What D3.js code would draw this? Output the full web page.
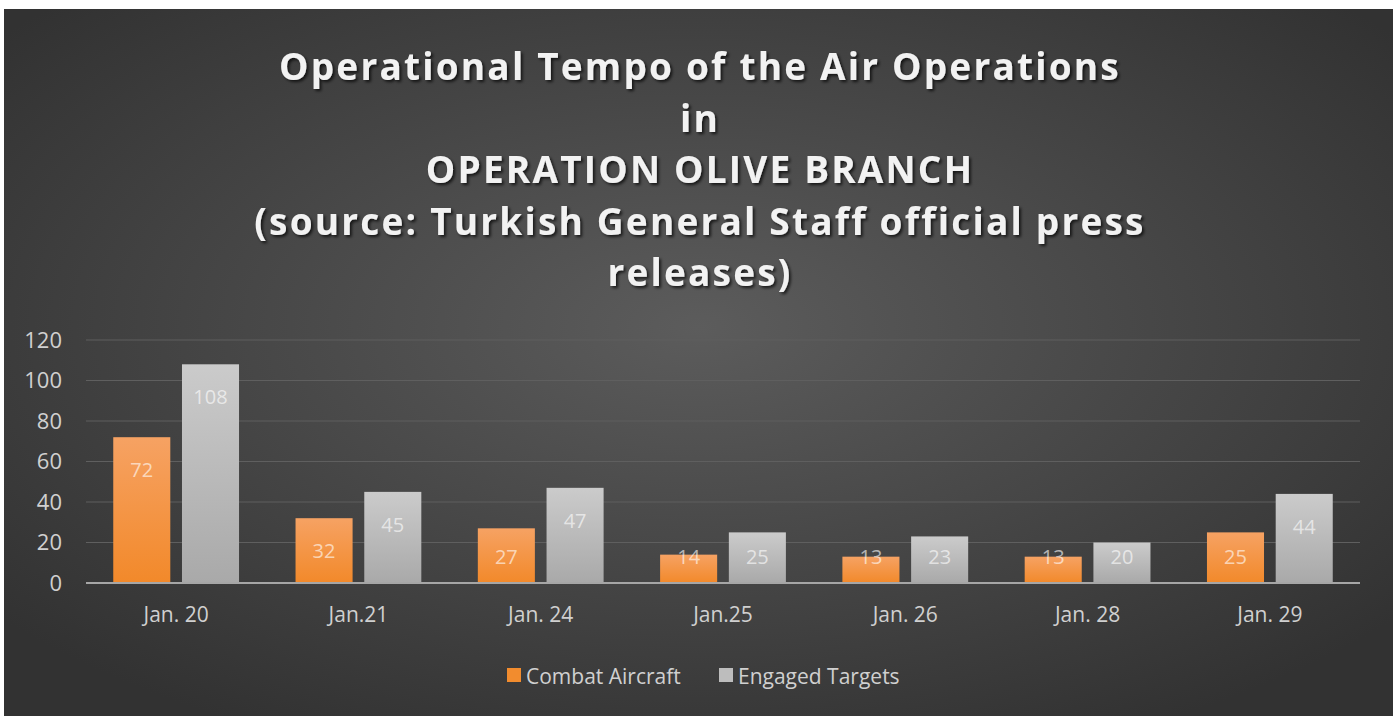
<!DOCTYPE html>
<html lang="en">
<head>
  <meta charset="UTF-8">
  <title>Operational Tempo of the Air Operations</title>
  <script src="https://d3js.org/d3.v7.min.js"></script>
  <style>
    html, body { margin: 0; padding: 0; background: #ffffff; }
    svg { display: block; }
    .title { font-family: "Open Sans", sans-serif; font-weight: 700; font-size: 37px; letter-spacing: 2.2px; fill: #f2f2f2; }
    .tick-label { font-family: "Open Sans", sans-serif; font-size: 22px; fill: #d0d0d0; }
    .cat-label { font-family: "Open Sans", sans-serif; font-size: 21px; fill: #d0d0d0; }
    .legend-text { font-family: "Open Sans", sans-serif; font-size: 21px; fill: #d0d0d0; }
    .bar-label { font-family: "Open Sans", sans-serif; font-size: 20px; fill: #ffffff; fill-opacity: 0.62; text-anchor: middle; }
  </style>
</head>
<body>
  <svg width="1400" height="716"></svg>
  <script>
    // data
    const categories = ["Jan. 20", "Jan.21", "Jan. 24", "Jan.25", "Jan. 26", "Jan. 28", "Jan. 29"];
    const combatAircraft = [72, 32, 27, 14, 13, 13, 25];
    const engagedTargets = [108, 45, 47, 25, 23, 20, 44];
    const seriesNames = ["Combat Aircraft", "Engaged Targets"];
    const yTicks = [0, 20, 40, 60, 80, 100, 120];
    const titleLines = [
      "Operational Tempo of the Air Operations",
      "in",
      "OPERATION OLIVE BRANCH",
      "(source: Turkish General Staff official press",
      "releases)"
    ];

    const rows = categories.map((c, i) => ({ cat: c, values: [combatAircraft[i], engagedTargets[i]] }));

    const svg = d3.select("svg");
    const defs = svg.append("defs");

    // background gradient
    const bg = defs.append("radialGradient").attr("id", "bg")
      .attr("cx", "50%").attr("cy", "45%").attr("r", "65%");
    bg.append("stop").attr("offset", "0%").attr("stop-color", "#5c5c5c");
    bg.append("stop").attr("offset", "100%").attr("stop-color", "#323232");

    const orange = defs.append("linearGradient").attr("id", "gOrange")
      .attr("x1", 0).attr("y1", 0).attr("x2", 0).attr("y2", 1);
    orange.append("stop").attr("offset", "0%").attr("stop-color", "#f6a263");
    orange.append("stop").attr("offset", "100%").attr("stop-color", "#f2892a");

    const gray = defs.append("linearGradient").attr("id", "gGray")
      .attr("x1", 0).attr("y1", 0).attr("x2", 0).attr("y2", 1);
    gray.append("stop").attr("offset", "0%").attr("stop-color", "#cbcbcb");
    gray.append("stop").attr("offset", "100%").attr("stop-color", "#a9a9a9");

    const shadow = defs.append("filter").attr("id", "shadow")
      .attr("x", "-10%").attr("y", "-20%").attr("width", "120%").attr("height", "140%");
    shadow.append("feDropShadow").attr("dx", 2).attr("dy", 2).attr("stdDeviation", 1.5)
      .attr("flood-color", "#000").attr("flood-opacity", 0.7);

    const fills = ["url(#gOrange)", "url(#gGray)"];
    const swatch = ["#f28c2e", "#bdbdbd"];

    svg.append("rect")
      .attr("x", 4).attr("y", 9).attr("width", 1389).attr("height", 707)
      .attr("fill", "url(#bg)");

    // title
    svg.append("g").selectAll("text")
      .data(titleLines)
      .join("text")
      .attr("class", "title")
      .attr("x", 700)
      .attr("y", (d, i) => 80 + i * 51.5)
      .attr("text-anchor", "middle")
      .attr("filter", "url(#shadow)")
      .text(d => d);

    // scales
    const x0 = d3.scaleBand().domain(categories).range([85, 1361]).paddingInner(0.31).paddingOuter(0.155);
    const x1 = d3.scaleBand().domain([0, 1]).range([0, x0.bandwidth()]).paddingInner(0.17);
    const y = d3.scaleLinear().domain([0, 120]).range([583, 340]);

    // grid
    svg.append("g").selectAll("line")
      .data(yTicks.filter(t => t > 0))
      .join("line")
      .attr("x1", 86).attr("x2", 1360)
      .attr("y1", d => y(d)).attr("y2", d => y(d))
      .attr("stroke", "#5f5f5f").attr("stroke-width", 1.2);

    // y axis labels
    const yAxis = d3.axisLeft(y).tickValues(yTicks).tickSize(0).tickPadding(0);
    const yg = svg.append("g").attr("transform", "translate(62,0)").call(yAxis);
    yg.select(".domain").remove();
    yg.selectAll("text").attr("class", "tick-label").attr("fill", null).attr("font-size", null).attr("font-family", null);

    // bars
    const groups = svg.append("g").selectAll("g")
      .data(rows)
      .join("g")
      .attr("transform", d => `translate(${x0(d.cat)},0)`);

    groups.selectAll("rect")
      .data(d => d.values.map((v, k) => ({ k, v })))
      .join("rect")
      .attr("x", d => x1(d.k))
      .attr("y", d => y(d.v))
      .attr("width", x1.bandwidth())
      .attr("height", d => y(0) - y(d.v))
      .attr("fill", d => fills[d.k]);

    groups.selectAll("text")
      .data(d => d.values.map((v, k) => ({ k, v })))
      .join("text")
      .attr("class", "bar-label")
      .attr("x", d => x1(d.k) + x1.bandwidth() / 2)
      .attr("y", d => Math.min(y(d.v) + 33, 557))
      .attr("dy", "0.35em")
      .text(d => d.v);

    // baseline
    svg.append("line")
      .attr("x1", 86).attr("x2", 1360)
      .attr("y1", y(0)).attr("y2", y(0))
      .attr("stroke", "#a6a6a6").attr("stroke-width", 2);

    // x axis labels
    const xAxis = d3.axisBottom(x0).tickSize(0).tickPadding(0);
    const xg = svg.append("g").attr("transform", "translate(0,615)").call(xAxis);
    xg.select(".domain").remove();
    xg.selectAll("text").attr("class", "cat-label").attr("fill", null).attr("font-size", null)
      .attr("font-family", null).attr("dy", "0.35em");

    // legend
    const legendX = [507, 719];
    const lg = svg.append("g").selectAll("g")
      .data(seriesNames)
      .join("g")
      .attr("transform", (d, i) => `translate(${legendX[i]},677)`);
    lg.append("rect").attr("x", 0).attr("y", -9).attr("width", 14).attr("height", 14)
      .attr("fill", (d, i) => swatch[i]);
    lg.append("text").attr("class", "legend-text").attr("x", 19).attr("dy", "0.35em").text(d => d);
  </script>
</body>
</html>
